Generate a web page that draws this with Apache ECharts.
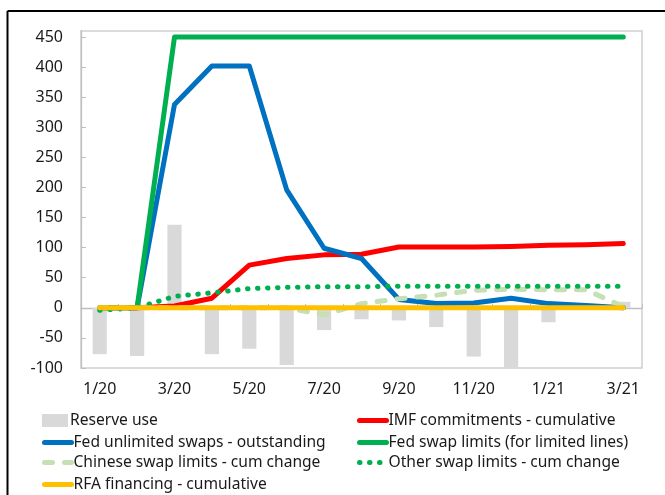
<!DOCTYPE html>
<html>
<head>
<meta charset="utf-8">
<script src="https://cdn.jsdelivr.net/npm/echarts@6/dist/echarts.min.js"></script>
<style>
html,body{margin:0;padding:0;background:#fff;}
#chart{width:665px;height:495px;}
</style>
</head>
<body>
<div id="chart"></div>
<script>
const months = ['1/20','2/20','3/20','4/20','5/20','6/20','7/20','8/20','9/20','10/20','11/20','12/20','1/21','2/21','3/21'];
const reserveUse = [-77,-80,138,-77,-68,-95,-37,-19,-21,-32,-81,-100,-24,null,10];
const imfCommitments = [0,0,3,16,71,82,88,89,101,101,101,102,104,105,107];
const fedUnlimited = [0,0,338,402,402,196,99,82,14,7,8,16,7,4,0];
const fedLimits = [0,0,450,450,450,450,450,450,450,450,450,450,450,450,450];
const chineseSwaps = [0,0,0,0,0,0,-12,7,15,21,29,31,30,30,2];
const otherSwaps = [-4,0,19,25,32,34,35,35,36,36,36,36,36,36,36];
const rfaFinancing = [0,0,0,0,0,0,0,0,0,0,0,0,0,0,0];
const yTicks = {min:-100, max:460, interval:50};

const legendCol1 = ['Reserve use','Fed unlimited swaps - outstanding','Chinese swap limits - cum change','RFA financing - cumulative'];
const legendCol2 = ['IMF commitments - cumulative','Fed swap limits (for limited lines)','Other swap limits - cum change'];

const chart = echarts.init(document.getElementById('chart'));
const font = 'Noto Sans';
const lw = 5;
function lineSeries(name, data, color, extra){
  return Object.assign({
    name, type:'line', data, symbol:'none', smooth:false,
    lineStyle:{color, width:lw, cap:'round', join:'round'},
    itemStyle:{color}, xAxisIndex:0, yAxisIndex:0, z:3
  }, extra||{});
}
const rowTops = [412.5, 434.5, 454.5, 476.5];
function legendItem(name, left, top){
  const isBar = name === 'Reserve use';
  const o = {
    orient:'vertical', left, top, padding:0, itemWidth:27, itemHeight:13,
    textStyle:{fontSize:15.6, color:'#1a1a1a', fontFamily:font, padding:[0,0,0,-3]},
    data:[name]
  };
  if (isBar) { o.icon = 'rect'; o.itemWidth = 26; }
  else { o.itemStyle = {opacity:0}; o.lineStyle = {width:5}; }
  return o;
}
const legends = [];
legendCol1.forEach((n,i)=>legends.push(legendItem(n, 42, rowTops[i])));
legendCol2.forEach((n,i)=>legends.push(legendItem(n, 357, rowTops[i])));

chart.setOption({
  animation:false,
  textStyle:{fontFamily:font},
  grid:{left:81, top:31, right:23, bottom:127, show:true, borderColor:'#d0d0d0', borderWidth:1.5},
  graphic:[
    {type:'line', shape:{x1:7.5,y1:11,x2:665,y2:11}, style:{stroke:'#000',lineWidth:2}},
    {type:'line', shape:{x1:7.5,y1:11,x2:7.5,y2:495}, style:{stroke:'#000',lineWidth:2}}
  ],
  xAxis:[
    {type:'category', data:months, position:'bottom', axisLine:{show:false, onZero:false},
     axisTick:{show:false}, axisLabel:{interval:1, color:'#1a1a1a', fontSize:16, margin:13, fontFamily:font}},
    {type:'category', data:months, position:'bottom', axisLine:{show:true, onZero:true, lineStyle:{color:'#bfbfbf', width:1.3}},
     axisTick:{show:true, inside:true, length:4, interval:0, lineStyle:{color:'#bfbfbf'}}, axisLabel:{show:false}}
  ],
  yAxis:{type:'value', min:yTicks.min, max:yTicks.max, interval:yTicks.interval,
    splitLine:{show:false},
    axisLine:{show:true, lineStyle:{color:'#bfbfbf', width:1.3}},
    axisTick:{show:true, inside:true, length:5, lineStyle:{color:'#bfbfbf'}},
    axisLabel:{showMaxLabel:false, color:'#1a1a1a', fontSize:16, margin:18, fontFamily:font}
  },
  legend:legends,
  series:[
    {name:'Reserve use', type:'bar', data:reserveUse, barWidth:'38%', itemStyle:{color:'#d9d9d9'}, xAxisIndex:0, z:1},
    lineSeries('IMF commitments - cumulative', imfCommitments, '#ff0000'),
    lineSeries('Fed unlimited swaps - outstanding', fedUnlimited, '#0070c0'),
    lineSeries('Fed swap limits (for limited lines)', fedLimits, '#00b050'),
    lineSeries('Chinese swap limits - cum change', chineseSwaps, '#c5e0b4', {lineStyle:{color:'#c5e0b4', width:lw, type:[8,12], cap:'round', join:'round'}}),
    lineSeries('Other swap limits - cum change', otherSwaps, '#00b050', {lineStyle:{color:'#00b050', width:lw, type:[0.5,9.5], cap:'round'}}),
    lineSeries('RFA financing - cumulative', rfaFinancing, '#ffc000')
  ]
});
</script>
</body>
</html>
